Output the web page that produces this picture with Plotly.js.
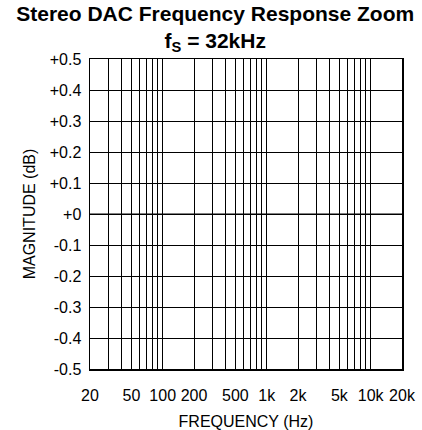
<!DOCTYPE html>
<html>
<head>
<meta charset="utf-8">
<script src="https://cdn.plot.ly/plotly-3.0.1.min.js"></script>
<style>html,body{margin:0;padding:0;background:#fff;}#chart{width:422px;height:430px;}</style>
</head>
<body>
<div id="chart"></div>
<script>
// Data (response lies on the 0 dB line)
var frequencyHz = [20, 50, 100, 200, 500, 1000, 2000, 5000, 10000, 20000];
var magnitudeDb = [0, 0, 0, 0, 0, 0, 0, 0, 0, 0];

// Axis ticks / grid
var xTickVals = [20, 50, 100, 200, 500, 1000, 2000, 5000, 10000, 20000];
var xTickText = ['20', '50', '100', '200', '500', '1k', '2k', '5k', '10k', '20k'];
var xMinorGridVals = [30,40,60,70,80,90,300,400,600,700,800,900,
                      3000,4000,6000,7000,8000,9000];
var yTickVals = [-0.5,-0.4,-0.3,-0.2,-0.1,0,0.1,0.2,0.3,0.4,0.5];
var yTickText = ['-0.5','-0.4','-0.3','-0.2','-0.1','+0','+0.1','+0.2','+0.3','+0.4','+0.5'];

var font = 'Liberation Sans, Arial, Helvetica, sans-serif';

var traces = [{
  x: frequencyHz, y: magnitudeDb, type: 'scatter', mode: 'lines',
  line: {color: '#000', width: 1}, hoverinfo: 'skip', showlegend: false
}];

var layout = {
  width: 422, height: 430,
  margin: {l: 90, r: 20, t: 59, b: 61, pad: 0},
  paper_bgcolor: '#fff', plot_bgcolor: '#fff',
  showlegend: false,
  title: {
    text: '<b>Stereo DAC Frequency Response Zoom<br>f<sub>S</sub> = 32kHz</b>',
    font: {family: font, size: 21, color: '#000'},
    x: 0.51, xanchor: 'center', xref: 'container',
    y: 0.952, yanchor: 'top', yref: 'container'
  },
  xaxis: {
    type: 'log', range: [Math.log10(20), Math.log10(20000)],
    tickmode: 'array', tickvals: xTickVals, ticktext: xTickText,
    showgrid: true, gridcolor: '#000', gridwidth: 1,
    minor: {tickmode: 'array', tickvals: xMinorGridVals, showgrid: true,
            gridcolor: '#000', gridwidth: 1, ticks: ''},
    ticks: 'outside', ticklen: 11, tickcolor: 'rgba(0,0,0,0)',
    showline: true, linecolor: '#000', linewidth: 1.5, mirror: true,
    zeroline: false,
    tickfont: {family: font, size: 16, color: '#000'},
    title: {text: 'FREQUENCY (Hz)', font: {family: font, size: 16, color: '#000'}, standoff: 13}
  },
  yaxis: {
    range: [-0.5, 0.5],
    tickmode: 'array', tickvals: yTickVals, ticktext: yTickText,
    showgrid: true, gridcolor: '#000', gridwidth: 1,
    ticks: 'outside', ticklen: 4, tickcolor: 'rgba(0,0,0,0)',
    showline: true, linecolor: '#000', linewidth: 1.5, mirror: true,
    zeroline: false,
    tickfont: {family: font, size: 16, color: '#000'},
    title: {text: 'MAGNITUDE (dB)', font: {family: font, size: 16, color: '#000'}, standoff: 10}
  }
};

Plotly.newPlot('chart', traces, layout, {displayModeBar: false, staticPlot: true});
</script>
</body>
</html>
